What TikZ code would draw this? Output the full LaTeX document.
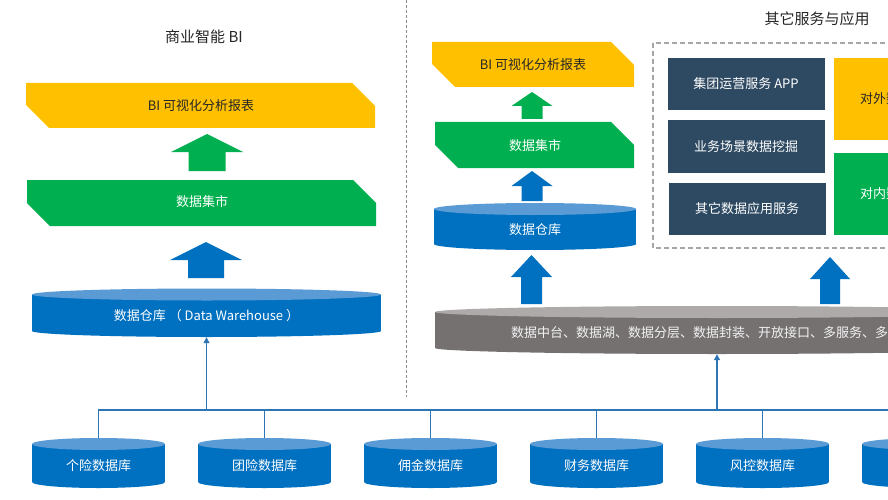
\documentclass[tikz,border=0pt]{standalone}
\usepackage{fontspec}
\setmainfont{Noto Sans CJK SC}
\usetikzlibrary{calc,arrows.meta}

\definecolor{biyellow}{HTML}{FFC000}
\definecolor{bigreen}{HTML}{00B050}
\definecolor{dbblue}{HTML}{0070C0}
\definecolor{dbtop}{HTML}{5B9BD5}
\definecolor{linkblue}{HTML}{2E75B6}
\definecolor{svcdark}{HTML}{2E4A62}
\definecolor{midgray}{HTML}{767171}
\definecolor{midtop}{HTML}{AEAAAA}

\tikzset{
  title/.style={font=\fontsize{15}{17}\selectfont, text=black!85},
  bantext/.style={font=\fontsize{13}{15}\selectfont, inner sep=0pt},
  dbtext/.style={font=\fontsize{13}{15}\selectfont, text=white, inner sep=0pt},
  svcbox/.style={fill=svcdark, text=white, font=\fontsize{13}{15}\selectfont,
    minimum width=157pt, minimum height=52pt, inner sep=0pt},
  sidebox/.style={text=white, font=\fontsize{13}{15}\selectfont,
    minimum width=91pt, minimum height=82pt, inner sep=0pt},
  link/.style={draw=linkblue, line width=1.2pt},
  divider/.style={draw=black!45, line width=0.8pt, dash pattern=on 3pt off 2pt},
  svcframe/.style={draw=black!35, line width=1.5pt, dash pattern=on 5pt off 3pt},
}

% banner with two cut corners: colour, left, top, right, bottom, cut
\newcommand{\banner}[6]{%
  \fill[#1] (#2,#3) -- (#4-#6,#3) -- (#4,#3+#6) -- (#4,#5) -- (#2+#6,#5) -- (#2,#5-#6) -- cycle;}
% block arrow pointing up: colour, x, tip, head base, bottom, head half width, shaft half width
\newcommand{\blockup}[7]{%
  \fill[#1] (#2,#3) -- (#2+#6,#4) -- (#2+#7,#4) -- (#2+#7,#5) -- (#2-#7,#5) -- (#2-#7,#4) -- (#2-#6,#4) -- cycle;}
% database cylinder: name, x, top ellipse y, bottom y, half width, body colour, top colour, text
\newcommand{\dbcyl}[8]{%
  \fill[#6] (#2,#4-6) ellipse[x radius=#5, y radius=6];
  \fill[#6] (#2-#5,#3) rectangle (#2+#5,#4-6);
  \fill[#7] (#2,#3) ellipse[x radius=#5, y radius=6];
  \coordinate (#1-top) at (#2,#3-6);
  \node[dbtext, minimum width=2*#5, minimum height=#4-#3] (#1) at (#2,{(#3+#4)/2}) {#8};}

\begin{document}
\begin{tikzpicture}[x=1pt, y=-1pt]
  \useasboundingbox (0,0) rectangle (888,500);
  \clip (0,0) rectangle (888,500);
  \fill[white] (0,0) rectangle (888,500);

  \draw[divider] (406,0) -- (406,397);

  \node[title] (bititle) at (204,37) {商业智能 BI};
  \banner{biyellow}{26}{83}{375}{128}{23}
  \node[bantext, text=black!85] (birep) at (201,106) {BI 可视化分析报表};
  \blockup{bigreen}{207}{134}{152}{171}{36}{18.5}
  \banner{bigreen}{27}{180}{376}{226}{23}
  \node[bantext, text=white] (bimart) at (202,202) {数据集市};
  \blockup{dbblue}{206}{242}{260}{278}{36}{18}
  \dbcyl{dw}{206.5}{294.5}{337}{174.5}{dbblue}{dbtop}{数据仓库 （ Data Warehouse ）}

  \banner{biyellow}{432}{42}{634}{87}{23}
  \node[bantext, text=black!85] (svcrep) at (533,65) {BI 可视化分析报表};
  \blockup{bigreen}{532}{92}{106}{119}{20.5}{10.5}
  \banner{bigreen}{435}{122}{634}{168}{23}
  \node[bantext, text=white] (svcmart) at (535,146) {数据集市};
  \blockup{dbblue}{532}{171}{186}{201}{20.5}{10.5}
  \dbcyl{dwr}{535}{209}{250}{101}{dbblue}{dbtop}{数据仓库}

  \node[title] (svctitle) at (817,19) {其它服务与应用};
  \draw[svcframe] (653,43) rectangle (1000,248);
  \node[svcbox] (app) at (746,84) {集团运营服务 APP};
  \node[svcbox] (mining) at (746,146.5) {业务场景数据挖掘};
  \node[svcbox] (othersvc) at (747,209) {其它数据应用服务};
  \node[sidebox, fill=biyellow, text=black!85] (outer) at (879.5,99) {对外数};
  \node[sidebox, fill=bigreen] (inner) at (879.5,194) {对内数};

  \blockup{dbblue}{531.5}{255}{277}{304}{20.5}{10.5}
  \blockup{dbblue}{830}{257}{279}{304}{20}{10}
  \dbcyl{midp}{717}{312}{354}{282}{midgray}{midtop}{}
  \node[dbtext, text=white!95!black, anchor=west] (midtext) at (511,333) {数据中台、数据湖、数据分层、数据封装、开放接口、多服务、多};

  \foreach \name/\lab [count=\i from 0] in {c1/个险数据库, c2/团险数据库, c3/佣金数据库, c4/财务数据库, c5/风控数据库, c6/{}} {
    \dbcyl{\name}{98.5+166*\i}{444}{488}{66.5}{dbblue}{dbtop}{\lab}
  }

  \coordinate (bus) at (0,410);
  \draw[link] (c1-top) -- (c1-top |- bus) -- (c6-top |- bus) -- (c6-top);
  \foreach \name in {c2,c3,c4,c5}
    \draw[link] (\name-top) -- (\name-top |- bus);
  \draw[link, -{Triangle[length=6pt, width=6pt]}] (dw.south |- bus) -- (dw.south);
  \draw[link, -{Triangle[length=6pt, width=6pt]}] (midp.south |- bus) -- (midp.south);
\end{tikzpicture}
\end{document}
